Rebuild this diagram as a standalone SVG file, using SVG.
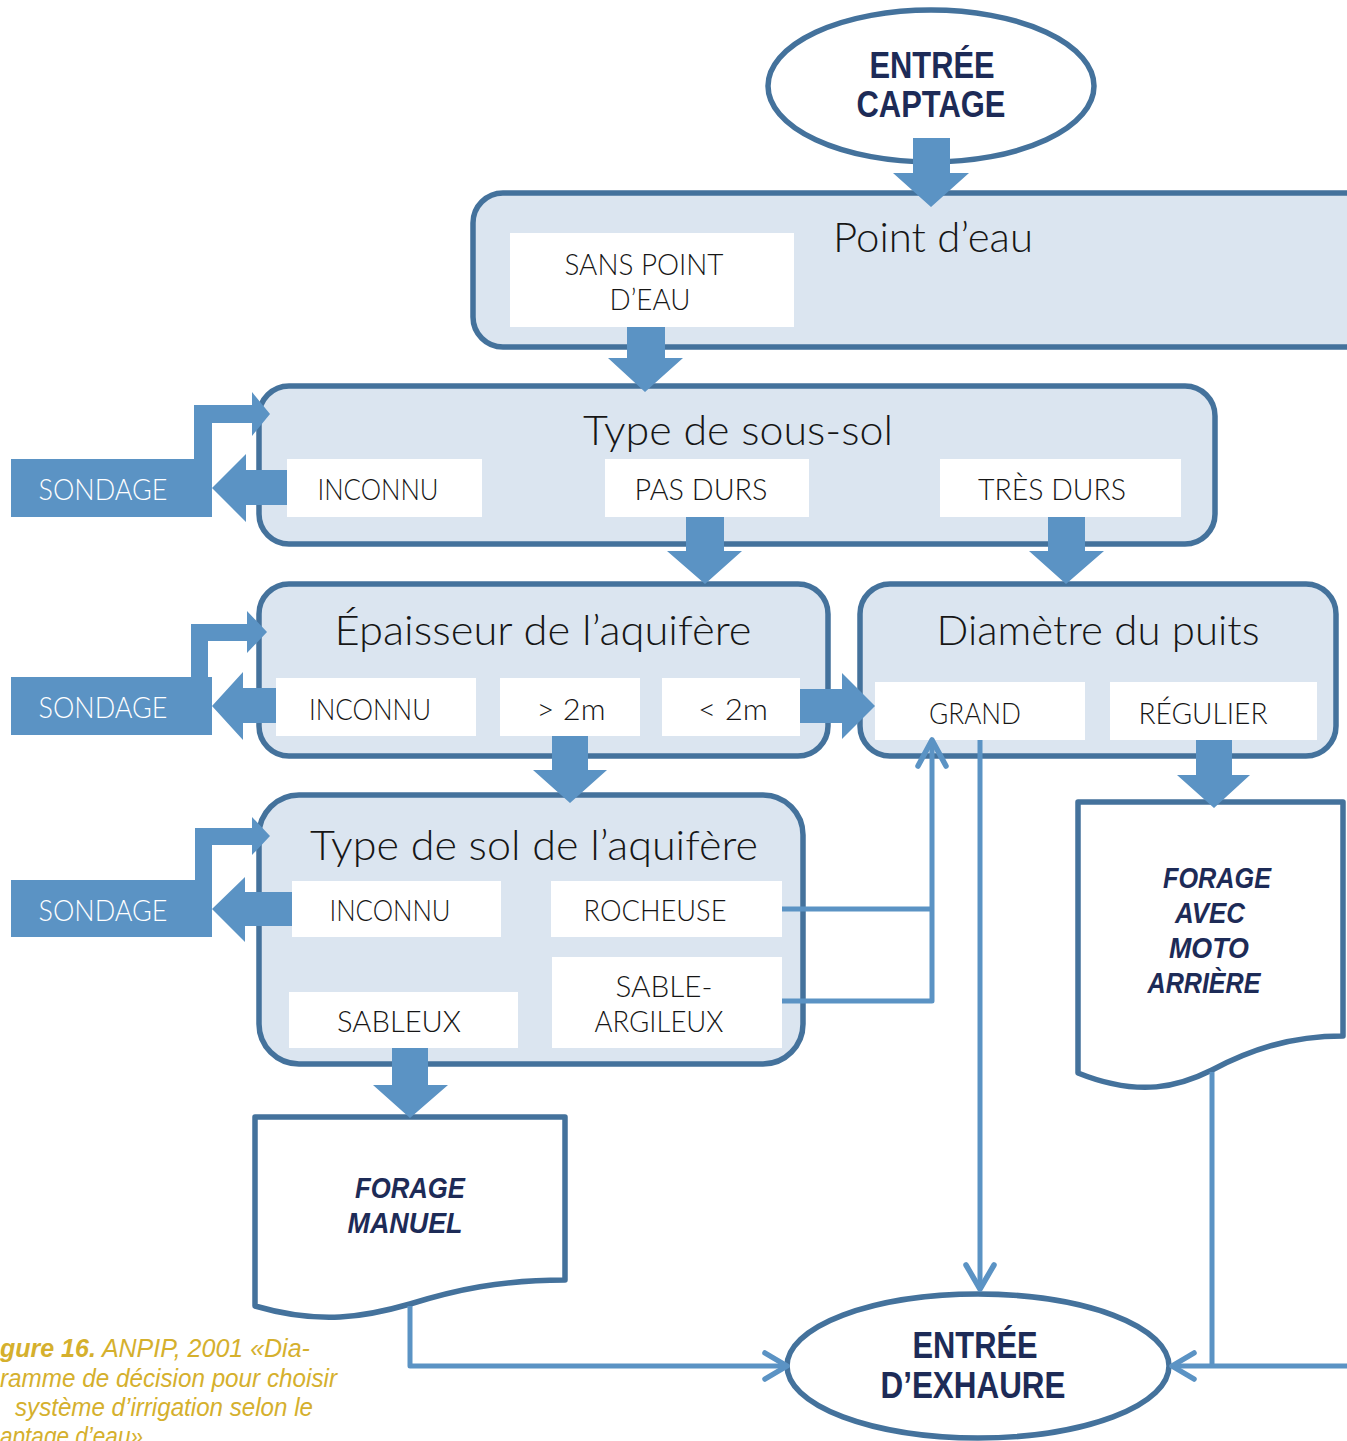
<svg xmlns="http://www.w3.org/2000/svg" width="1347" height="1441" viewBox="0 0 1347 1441">
<style>
.box{fill:#dbe5f0;stroke:#44729c;stroke-width:5.5}
.ell{fill:#ffffff;stroke:#44729c;stroke-width:5.5}
.doc{fill:#ffffff;stroke:#44729c;stroke-width:5.5;stroke-linejoin:round}
.lbl{fill:#ffffff}
.blk{fill:#5b93c4}
.ln{fill:none;stroke:#5b93c4;stroke-width:5;stroke-linejoin:round}
.chev{fill:none;stroke:#5b93c4;stroke-width:5.5;stroke-linecap:round;stroke-linejoin:round}
.t{font-family:Lato,"Liberation Sans",Arial,sans-serif;font-weight:300;fill:#161616;text-anchor:middle}
.title{font-size:42px}
.lab{font-size:29px}
.snd{font-family:Lato,"Liberation Sans",Arial,sans-serif;font-weight:300;fill:#ffffff;font-size:29px;text-anchor:middle}
.bold{font-family:"Liberation Sans",Arial,sans-serif;font-weight:bold;fill:#1d2b57;text-anchor:middle;font-size:36px}
.bi{font-family:"Liberation Sans",Arial,sans-serif;font-weight:bold;font-style:italic;fill:#1d2b57;text-anchor:middle;font-size:29px}
.cap{font-family:"Liberation Sans",Arial,sans-serif;font-style:italic;fill:#d5b02d;font-size:25px}
</style>

<g id="entree-captage">
<ellipse class="ell" cx="931" cy="86" rx="163" ry="76"/>
<text class="bold" x="932" y="78" textLength="125" lengthAdjust="spacingAndGlyphs">ENTRÉE</text>
<text class="bold" x="931" y="117" textLength="149" lengthAdjust="spacingAndGlyphs">CAPTAGE</text>
</g>

<g id="point-deau">
<rect class="box" x="473" y="193" width="1000" height="154" rx="30"/>
<text class="t title" x="933" y="252" textLength="200" lengthAdjust="spacingAndGlyphs">Point d’eau</text>
<rect class="lbl" x="510" y="233" width="284" height="94"/>
<text class="t lab" x="644" y="275" textLength="159" lengthAdjust="spacingAndGlyphs">SANS POINT</text>
<text class="t lab" x="650" y="310" textLength="81" lengthAdjust="spacingAndGlyphs">D’EAU</text>
</g>

<g id="type-sous-sol">
<rect class="box" x="259" y="386" width="956" height="158" rx="30"/>
<text class="t title" x="738" y="445" textLength="310" lengthAdjust="spacingAndGlyphs">Type de sous-sol</text>
<rect class="lbl" x="287" y="459" width="195" height="58"/>
<text class="t lab" x="378" y="500" textLength="121" lengthAdjust="spacingAndGlyphs">INCONNU</text>
<rect class="lbl" x="605" y="459" width="204" height="58"/>
<text class="t lab" x="701" y="500" textLength="133" lengthAdjust="spacingAndGlyphs">PAS DURS</text>
<rect class="lbl" x="940" y="459" width="241" height="58"/>
<text class="t lab" x="1052" y="500" textLength="148" lengthAdjust="spacingAndGlyphs">TRÈS DURS</text>
</g>

<g id="epaisseur">
<rect class="box" x="259" y="584" width="569" height="172" rx="30"/>
<text class="t title" x="543" y="645" textLength="417" lengthAdjust="spacingAndGlyphs">Épaisseur de l’aquifère</text>
<rect class="lbl" x="276" y="678" width="200" height="58"/>
<text class="t lab" x="370" y="720" textLength="122" lengthAdjust="spacingAndGlyphs">INCONNU</text>
<rect class="lbl" x="500" y="678" width="140" height="58"/>
<text class="t lab" x="571" y="720" textLength="69" lengthAdjust="spacingAndGlyphs">&gt; 2m</text>
<rect class="lbl" x="662" y="678" width="138" height="58"/>
<text class="t lab" x="733" y="720" textLength="70" lengthAdjust="spacingAndGlyphs">&lt; 2m</text>
</g>

<g id="diametre">
<rect class="box" x="860" y="584" width="476" height="172" rx="30"/>
<text class="t title" x="1098" y="645" textLength="323" lengthAdjust="spacingAndGlyphs">Diamètre du puits</text>
<rect class="lbl" x="875" y="682" width="210" height="58"/>
<text class="t lab" x="975" y="724" textLength="92" lengthAdjust="spacingAndGlyphs">GRAND</text>
<rect class="lbl" x="1110" y="682" width="207" height="58"/>
<text class="t lab" x="1203" y="724" textLength="129" lengthAdjust="spacingAndGlyphs">RÉGULIER</text>
</g>

<g id="type-sol">
<rect class="box" x="259" y="795" width="544" height="269" rx="40"/>
<text class="t title" x="534" y="860" textLength="448" lengthAdjust="spacingAndGlyphs">Type de sol de l’aquifère</text>
<rect class="lbl" x="292" y="881" width="209" height="56"/>
<text class="t lab" x="390" y="921" textLength="121" lengthAdjust="spacingAndGlyphs">INCONNU</text>
<rect class="lbl" x="551" y="881" width="231" height="56"/>
<text class="t lab" x="655" y="921" textLength="143" lengthAdjust="spacingAndGlyphs">ROCHEUSE</text>
<rect class="lbl" x="289" y="992" width="229" height="56"/>
<text class="t lab" x="399" y="1032" textLength="124" lengthAdjust="spacingAndGlyphs">SABLEUX</text>
<rect class="lbl" x="552" y="957" width="230" height="91"/>
<text class="t lab" x="664" y="997" textLength="97" lengthAdjust="spacingAndGlyphs">SABLE-</text>
<text class="t lab" x="659" y="1032" textLength="129" lengthAdjust="spacingAndGlyphs">ARGILEUX</text>
</g>

<g id="sondage-1">
<rect class="blk" x="11" y="459" width="201" height="58"/>
<text class="snd" x="103" y="500" textLength="129" lengthAdjust="spacingAndGlyphs">SONDAGE</text>
</g>
<g id="sondage-2">
<rect class="blk" x="11" y="677" width="201" height="58"/>
<text class="snd" x="103" y="718" textLength="129" lengthAdjust="spacingAndGlyphs">SONDAGE</text>
</g>
<g id="sondage-3">
<rect class="blk" x="11" y="880" width="201" height="57"/>
<text class="snd" x="103" y="921" textLength="129" lengthAdjust="spacingAndGlyphs">SONDAGE</text>
</g>

<g id="forage-manuel">
<path class="doc" d="M255,1117 L565,1117 L565,1280 C500,1280 455,1290 410,1304 C365,1317 320,1325 255,1306 Z"/>
<text class="bi" x="410" y="1198" textLength="110" lengthAdjust="spacingAndGlyphs">FORAGE</text>
<text class="bi" x="405" y="1233" textLength="115" lengthAdjust="spacingAndGlyphs">MANUEL</text>
</g>

<g id="forage-moto">
<path class="doc" d="M1078,802 L1343,802 L1343,1036 C1290,1036 1250,1050 1212,1070 C1180,1086 1140,1098 1078,1073 Z"/>
<text class="bi" x="1217" y="888" textLength="108" lengthAdjust="spacingAndGlyphs">FORAGE</text>
<text class="bi" x="1210" y="923" textLength="70" lengthAdjust="spacingAndGlyphs">AVEC</text>
<text class="bi" x="1209" y="958" textLength="80" lengthAdjust="spacingAndGlyphs">MOTO</text>
<text class="bi" x="1204" y="993" textLength="113" lengthAdjust="spacingAndGlyphs">ARRIÈRE</text>
</g>

<g id="entree-exhaure">
<ellipse class="ell" cx="978" cy="1366" rx="191" ry="72"/>
<text class="bold" x="975" y="1358" textLength="125" lengthAdjust="spacingAndGlyphs">ENTRÉE</text>
<text class="bold" x="973" y="1398" textLength="185" lengthAdjust="spacingAndGlyphs">D’EXHAURE</text>
</g>

<g id="connectors">
<polygon class="blk" points="913,138 950,138 950,173 969,173 931,207 893,173 913,173"/>
<polygon class="blk" points="627,327 665,327 665,358 683,358 645,392 608,358 627,358"/>
<polygon class="blk" points="686,517 724,517 724,551 742,551 705,584 667,551 686,551"/>
<polygon class="blk" points="1048,517 1085,517 1085,551 1104,551 1066,584 1029,551 1048,551"/>
<polygon class="blk" points="552,736 588,736 588,770 607,770 570,803 533,770 552,770"/>
<polygon class="blk" points="392,1048 428,1048 428,1085 448,1085 410,1118 373,1085 392,1085"/>
<polygon class="blk" points="1196,740 1232,740 1232,775 1250,775 1214,808 1177,775 1196,775"/>
<polygon class="blk" points="800,689 842,689 842,673 875,706 842,739 842,723 800,723"/>
<polygon class="blk" points="287,470 287,505 246,505 246,522 212,488 246,454 246,470"/>
<polygon class="blk" points="276,688 276,723 243,723 243,740 212,706 243,672 243,688"/>
<polygon class="blk" points="292,892 292,926 245,926 245,942 212,909 245,877 245,892"/>
<polygon class="blk" points="194,459 194,405 252,405 252,392 270,414 252,436 252,423 212,423 212,459"/>
<polygon class="blk" points="191,677 191,624 247,624 247,611 267,632 247,653 247,641 208,641 208,677"/>
<polygon class="blk" points="195,880 195,828 252,828 252,817 270,836 252,855 252,845 212,845 212,880"/>
<polyline class="ln" points="782,909 932,909"/>
<polyline class="ln" points="782,1001 932,1001 932,742"/>
<polyline class="chev" points="918,766 932,740 946,766"/>
<polyline class="ln" points="980,740 980,1288"/>
<polyline class="chev" points="966,1265 980,1289 994,1265"/>
<polyline class="ln" points="410,1306 410,1366 786,1366"/>
<polyline class="chev" points="765,1353 787,1366 765,1379"/>
<polyline class="ln" points="1212,1072 1212,1366"/>
<polyline class="ln" points="1347,1366 1174,1366"/>
<polyline class="chev" points="1194,1353 1172,1366 1194,1379"/>
</g>

<g id="caption">
<text class="cap" x="0" y="1357"><tspan font-weight="bold">gure 16.</tspan> ANPIP, 2001 «Dia-</text>
<text class="cap" x="0" y="1387" textLength="337" lengthAdjust="spacingAndGlyphs">ramme de décision pour choisir</text>
<text class="cap" x="15" y="1416" textLength="298" lengthAdjust="spacingAndGlyphs">système d’irrigation selon le</text>
<text class="cap" x="0" y="1445" textLength="143" lengthAdjust="spacingAndGlyphs">aptage d’eau»</text>
</g>
</svg>
